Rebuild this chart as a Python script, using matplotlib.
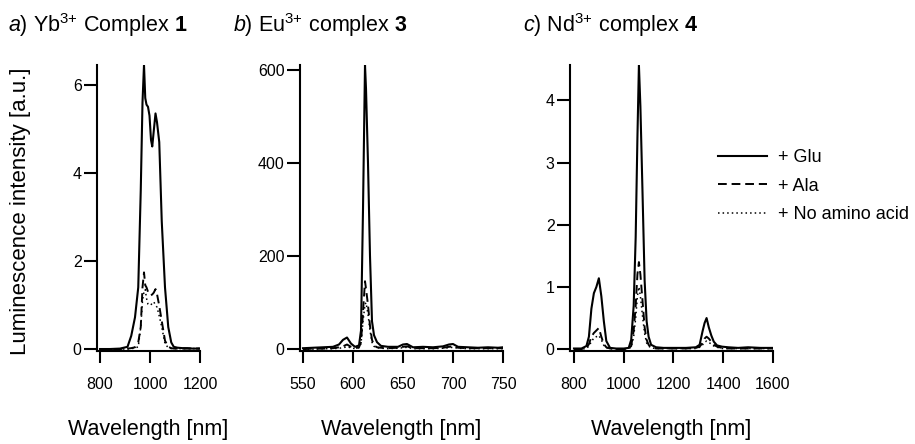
import matplotlib
matplotlib.use("Agg")
import matplotlib.pyplot as plt

plt.rcParams["font.family"] = "Liberation Sans"
plt.rcParams["mathtext.fontset"] = "custom"
plt.rcParams["mathtext.rm"] = "Liberation Sans"
plt.rcParams["mathtext.it"] = "Liberation Sans:italic"
plt.rcParams["mathtext.bf"] = "Liberation Sans:bold"

# a) Yb3+ complex 1
yb_wl = [800, 840, 880, 910, 925, 940, 953, 963, 970, 976, 981, 986, 992, 998, 1004,
         1009, 1015, 1022, 1028, 1037, 1047, 1060, 1073, 1085, 1095, 1110, 1130, 1150,
         1170, 1185, 1200]
yb_glu = [0.0, 0.0, 0.01, 0.05, 0.3, 0.72, 1.4, 3.6, 5.6, 6.45, 5.7, 5.55, 5.5, 5.3, 4.75,
          4.6, 4.95, 5.35, 5.15, 4.7, 2.9, 1.4, 0.5, 0.15, 0.05, 0.03, 0.02, 0.02,
          0.01, 0.01, 0.01]
yb_ala = [0.0, 0.0, 0.0, 0.01, 0.02, 0.04, 0.15, 0.5, 1.4, 1.74, 1.45, 1.4, 1.3, 1.24, 1.22,
          1.24, 1.28, 1.36, 1.25, 0.98, 0.64, 0.19, 0.05, 0.02, 0.01, 0.01, 0.01, 0.01,
          0.01, 0.01, 0.01]
yb_none = [0.0, 0.0, 0.0, 0.0, 0.01, 0.02, 0.05, 0.5, 1.1, 1.3, 1.35, 1.15, 1.02, 1.0, 1.0,
           1.05, 1.07, 1.0, 0.95, 0.75, 0.5, 0.12, 0.03, 0.01, 0.01, 0.01, 0.01, 0.01,
           0.01, 0.01, 0.01]

# b) Eu3+ complex 3
eu_wl = [550, 560, 570, 580, 586, 590, 594, 598, 602, 606, 608, 610, 612, 613, 615, 617,
         619, 621, 624, 628, 635, 645, 650, 654, 660, 670, 680, 690, 696, 700, 705, 715,
         725, 735, 745, 750]
eu_glu = [2, 3, 4, 5, 10, 20, 25, 12, 5, 8, 40, 300, 611, 560, 400, 200,
          60, 30, 15, 7, 5, 5, 10, 11, 4, 5, 4, 6, 10, 11, 5, 4,
          3, 4, 3, 4]
eu_ala = [0, 1, 1, 2, 4, 6, 10, 5, 2, 4, 15, 80, 146, 130, 95, 50,
          20, 8, 4, 3, 2, 3, 5, 6, 2, 2, 2, 3, 5, 6, 3, 2,
          2, 2, 2, 2]
eu_none = [0, 0, 1, 1, 2, 3, 5, 3, 1, 3, 12, 60, 96, 100, 75, 40,
           15, 6, 3, 2, 1, 2, 3, 4, 1, 1, 1, 2, 3, 4, 2, 1,
           1, 1, 1, 1]

# c) Nd3+ complex 4
nd_wl = [800, 830, 850, 860, 870, 880, 890, 900, 910, 920, 930, 945, 970, 1000, 1020,
         1030, 1040, 1048, 1055, 1061, 1067, 1075, 1084, 1092, 1100, 1110, 1130, 1160,
         1200, 1250, 1290, 1305, 1317, 1325, 1333, 1342, 1352, 1362, 1375, 1395, 1420,
         1460, 1500, 1550, 1600]
nd_glu = [0.01, 0.01, 0.05, 0.2, 0.65, 0.9, 1.0, 1.14, 0.85, 0.45, 0.13, 0.02, 0.01, 0.01, 0.02,
          0.15, 0.7, 1.8, 3.4, 4.57, 3.9, 2.6, 1.1, 0.45, 0.2, 0.07, 0.03, 0.02,
          0.02, 0.02, 0.03, 0.07, 0.29, 0.42, 0.5, 0.35, 0.22, 0.12, 0.06, 0.04, 0.03,
          0.02, 0.03, 0.02, 0.02]
nd_ala = [0.0, 0.0, 0.02, 0.08, 0.2, 0.26, 0.3, 0.34, 0.2, 0.08, 0.03, 0.01, 0.0, 0.0, 0.01,
          0.05, 0.3, 0.7, 1.2, 1.4, 1.2, 0.8, 0.35, 0.15, 0.07, 0.03, 0.01, 0.01,
          0.01, 0.01, 0.02, 0.04, 0.1, 0.17, 0.2, 0.17, 0.12, 0.07, 0.04, 0.02, 0.01,
          0.01, 0.01, 0.01, 0.01]
nd_none = [0.0, 0.0, 0.01, 0.05, 0.12, 0.18, 0.2, 0.22, 0.15, 0.06, 0.02, 0.01, 0.0, 0.0, 0.01,
           0.03, 0.2, 0.5, 0.85, 1.0, 0.85, 0.55, 0.25, 0.1, 0.05, 0.02, 0.01, 0.01,
           0.01, 0.01, 0.01, 0.03, 0.07, 0.11, 0.13, 0.11, 0.08, 0.05, 0.03, 0.01, 0.01,
           0.01, 0.01, 0.01, 0.01]

series_labels = ["+ Glu", "+ Ala", "+ No amino acid"]
titles = [r"$\mathit{a}$) Yb$^{\mathrm{3{+}}}$ Complex $\mathbf{1}$",
          r"$\mathit{b}$) Eu$^{\mathrm{3{+}}}$ complex $\mathbf{3}$",
          r"$\mathit{c}$) Nd$^{\mathrm{3{+}}}$ complex $\mathbf{4}$"]

panels = [
    (yb_wl, [yb_glu, yb_ala, yb_none], (788, 1200), (-0.045, 6.45),
     [800, 1000, 1200], [0, 2, 4, 6]),
    (eu_wl, [eu_glu, eu_ala, eu_none], (547, 750), (-4, 611),
     [550, 600, 650, 700, 750], [0, 200, 400, 600]),
    (nd_wl, [nd_glu, nd_ala, nd_none], (784, 1600), (-0.03, 4.57),
     [800, 1000, 1200, 1400, 1600], [0, 1, 2, 3, 4]),
]
styles = [dict(ls="-", lw=1.5), dict(ls=(0, (4.5, 2.5)), lw=1.4), dict(ls=(0, (1, 2)), lw=1.1)]

W, H = 915, 444
lefts = [97, 300, 570]
widths = [103, 203, 203]
top_px, bot_px = 65, 351
title_x = [8, 233, 523]

fig = plt.figure(figsize=(W / 100, H / 100), dpi=100)
axes = []
for i, (wl, ys, xl, yl, xt, yt) in enumerate(panels):
    ax = fig.add_axes([lefts[i] / W, 1 - bot_px / H, widths[i] / W, (bot_px - top_px) / H])
    for y, st, lab in zip(ys, styles, series_labels):
        ax.plot(wl, y, color="black", label=lab, **st)
    ax.set_xlim(*xl)
    ax.set_ylim(*yl)
    ax.set_xticks(xt)
    ax.set_yticks(yt)
    for s in ["top", "right"]:
        ax.spines[s].set_visible(False)
    for s in ["left", "bottom"]:
        ax.spines[s].set_linewidth(1.5)
    ax.tick_params(axis="x", direction="out", length=8.5, width=1.5, pad=10, labelsize=11.5)
    ax.tick_params(axis="y", direction="out", length=9.5, width=1.5, pad=1.5, labelsize=11.5)
    ax.set_xlabel("Wavelength [nm]", fontsize=15.5, labelpad=20)
    fig.text(title_x[i] / W, 1 - 32 / H, titles[i], fontsize=15.5, ha="left", va="baseline")
    axes.append(ax)

fig.text(21 / W, 1 - 211 / H, "Luminescence intensity [a.u.]", rotation=90,
         fontsize=16, ha="center", va="center")

axes[2].legend(loc="upper left", bbox_to_anchor=(718 / W, 1 - 149 / H),
               bbox_transform=fig.transFigure, frameon=False, fontsize=13,
               handlelength=2.7, handletextpad=0.6, labelspacing=0.65,
               borderpad=0, borderaxespad=0)

fig.savefig("out.png", dpi=100)
